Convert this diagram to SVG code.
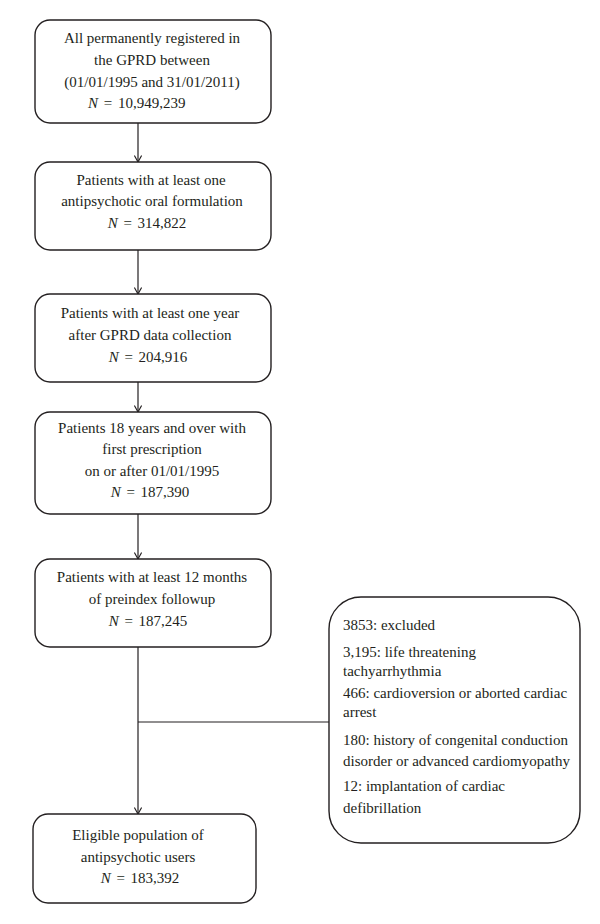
<svg xmlns="http://www.w3.org/2000/svg" width="600" height="924" viewBox="0 0 600 924">
<defs>
<style>
.box{fill:#fff;stroke:#231f20;stroke-width:1.4}
.t{font-family:"Liberation Serif","Times New Roman",serif;font-size:15px;fill:#231f20}
.c{text-anchor:middle}
.i{font-style:italic}
.ln{stroke:#231f20;stroke-width:1.2;fill:none}
</style>
<marker id="ah" viewBox="0 0 10 10" refX="10" refY="5" markerWidth="8" markerHeight="8" markerUnits="userSpaceOnUse" orient="auto">
<path d="M2,0.5 L10,5 L2,9.5" fill="none" stroke="#231f20" stroke-width="1.4"/>
</marker>
</defs>
<rect width="600" height="924" fill="#fff"/>
<g id="connectors">
<line class="ln" x1="138" y1="123" x2="138" y2="162" marker-end="url(#ah)"/>
<line class="ln" x1="138" y1="250" x2="138" y2="294" marker-end="url(#ah)"/>
<line class="ln" x1="138" y1="382" x2="138" y2="412" marker-end="url(#ah)"/>
<line class="ln" x1="138" y1="514" x2="138" y2="559" marker-end="url(#ah)"/>
<line class="ln" x1="138" y1="647" x2="138" y2="814" marker-end="url(#ah)"/>
<line class="ln" x1="138" y1="722" x2="329" y2="722"/>
</g>
<g id="n1">
<rect class="box" x="35" y="20" width="236" height="103" rx="15"/>
<text class="t c" x="152" y="43">All permanently registered in</text>
<text class="t c" x="152" y="65">the GPRD between</text>
<text class="t c" x="152" y="87">(01/01/1995 and 31/01/2011)</text>
<text class="t" x="88" y="108"><tspan class="i">N</tspan> <tspan dx="2">=</tspan> <tspan dx="2">10,949,239</tspan></text>
</g>
<g id="n2">
<rect class="box" x="35" y="162" width="236" height="88" rx="15"/>
<text class="t c" x="151" y="185">Patients with at least one</text>
<text class="t c" x="152" y="206">antipsychotic oral formulation</text>
<text class="t c" x="147" y="228"><tspan class="i">N</tspan> <tspan dx="2">=</tspan> <tspan dx="2">314,822</tspan></text>
</g>
<g id="n3">
<rect class="box" x="35" y="294" width="236" height="88" rx="15"/>
<text class="t c" x="150" y="318">Patients with at least one year</text>
<text class="t c" x="150" y="340">after GPRD data collection</text>
<text class="t c" x="148" y="362"><tspan class="i">N</tspan> <tspan dx="2">=</tspan> <tspan dx="2">204,916</tspan></text>
</g>
<g id="n4">
<rect class="box" x="35" y="412" width="236" height="102" rx="15"/>
<text class="t c" x="152" y="433">Patients 18 years and over with</text>
<text class="t c" x="152" y="454">first prescription</text>
<text class="t c" x="152" y="476">on or after 01/01/1995</text>
<text class="t c" x="150" y="497"><tspan class="i">N</tspan> <tspan dx="2">=</tspan> <tspan dx="2">187,390</tspan></text>
</g>
<g id="n5">
<rect class="box" x="35" y="559" width="236" height="88" rx="15"/>
<text class="t c" x="152" y="582">Patients with at least 12 months</text>
<text class="t c" x="152" y="604">of preindex followup</text>
<text class="t c" x="148" y="626"><tspan class="i">N</tspan> <tspan dx="2">=</tspan> <tspan dx="2">187,245</tspan></text>
</g>
<g id="n6">
<rect class="box" x="33" y="814" width="223" height="89" rx="15"/>
<text class="t c" x="138" y="840">Eligible population of</text>
<text class="t c" x="138" y="862">antipsychotic users</text>
<text class="t c" x="140" y="883"><tspan class="i">N</tspan> <tspan dx="2">=</tspan> <tspan dx="2">183,392</tspan></text>
</g>
<g id="n7">
<rect class="box" x="329" y="597" width="251" height="246" rx="32"/>
<text class="t" x="343" y="630">3853: excluded</text>
<text class="t" x="343" y="657">3,195: life threatening</text>
<text class="t" x="343" y="676">tachyarrhythmia</text>
<text class="t" x="343" y="698">466: cardioversion or aborted cardiac</text>
<text class="t" x="343" y="717">arrest</text>
<text class="t" x="343" y="745">180: history of congenital conduction</text>
<text class="t" x="343" y="766">disorder or advanced cardiomyopathy</text>
<text class="t" x="343" y="791">12: implantation of cardiac</text>
<text class="t" x="343" y="813">defibrillation</text>
</g>
</svg>
